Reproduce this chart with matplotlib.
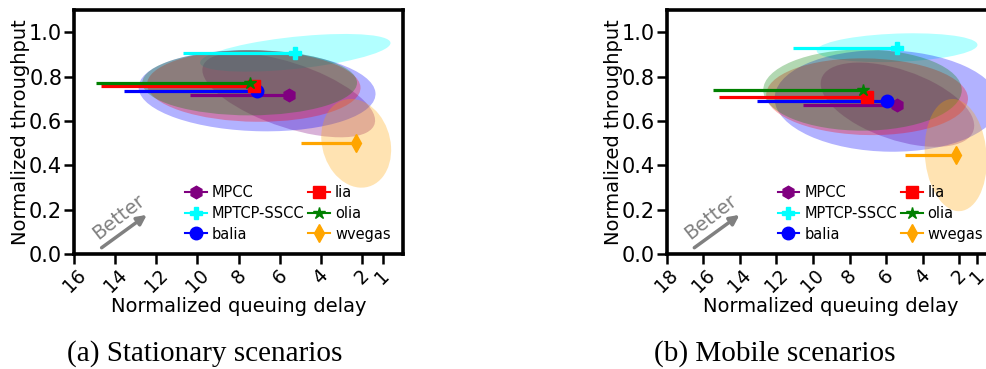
import numpy as np
import matplotlib
matplotlib.use("Agg")
import matplotlib.pyplot as plt
import matplotlib.transforms as transforms
from matplotlib.patches import Ellipse
from matplotlib.lines import Line2D

# ---- data ----
names = ['MPCC', 'MPTCP-SSCC', 'balia', 'lia', 'olia', 'wvegas']
colors = ['purple', 'cyan', 'blue', 'red', 'green', 'orange']
markers = ['h', 'P', 'o', 's', '*', 'd']

# stationary scenarios: mean delay / throughput, left end of delay bar
stat_delay = [5.56, 5.24, 7.10, 7.26, 7.46, 2.28]
stat_tput = [0.716, 0.907, 0.736, 0.757, 0.772, 0.499]
stat_delay_hi = [10.37, 10.69, 13.57, 14.70, 14.93, 4.95]
# spread ellipses: half-width (delay), half-height (throughput), correlation
stat_sx = [4.2, 4.63, 5.76, 5.19, 5.22, 1.7]
stat_sy = [0.19, 0.085, 0.183, 0.161, 0.147, 0.20]
stat_rho = [0.6, -0.52, 0.08, 0.05, 0.0, 0.15]

# mobile scenarios
mob_delay = [5.38, 5.40, 5.95, 7.04, 7.29, 2.19]
mob_tput = [0.673, 0.930, 0.690, 0.709, 0.739, 0.446]
mob_delay_hi = [10.53, 11.08, 13.05, 15.13, 15.45, 4.98]
mob_sx = [4.2, 4.4, 6.15, 5.52, 5.43, 1.7]
mob_sy = [0.19, 0.065, 0.229, 0.173, 0.183, 0.253]
mob_rho = [0.5, -0.2, 0.05, 0.05, 0.0, 0.1]

stat_xticks = [16, 14, 12, 10, 8, 6, 4, 2, 1]
mob_xticks = [18, 16, 14, 12, 10, 8, 6, 4, 2, 1]


def add_ellipse(ax, cx, cy, sx, sy, rho, color):
    ell = Ellipse((0, 0), width=2 * np.sqrt(1 + rho), height=2 * np.sqrt(1 - rho),
                  facecolor=color, alpha=0.3, lw=0, zorder=1)
    tr = transforms.Affine2D().rotate_deg(45).scale(sx, sy).translate(cx, cy)
    ell.set_transform(tr + ax.transData)
    ax.add_patch(ell)


def draw_panel(ax, delay, tput, delay_hi, sx, sy, rho, xmax, xticks):
    for i in range(len(names)):
        add_ellipse(ax, delay[i], tput[i], sx[i], sy[i], rho[i], colors[i])
    for i in range(len(names)):
        ax.errorbar(delay[i], tput[i], xerr=[[0], [delay_hi[i] - delay[i]]],
                    fmt=markers[i], color=colors[i], ms=9, elinewidth=2.3,
                    capsize=0, zorder=3)
    ax.set_xlim(xmax, 0)
    ax.set_ylim(0, 1.1)
    ax.set_xticks(xticks)
    ax.set_xticklabels([str(t) for t in xticks], rotation=45)
    ax.set_yticks([0.0, 0.2, 0.4, 0.6, 0.8, 1.0])
    ax.set_yticklabels(['0.0', '0.2', '0.4', '0.6', '0.8', '1.0'])
    ax.set_xlabel('Normalized queuing delay', fontsize=14, labelpad=1)
    ax.set_ylabel('Normalized throughput', fontsize=14, labelpad=-1)
    ax.tick_params(length=7, width=1.8, pad=1.5)
    ax.tick_params(axis='x', labelsize=13.5)
    ax.tick_params(axis='y', labelsize=15)
    for s in ax.spines.values():
        s.set_linewidth(2.6)
    handles = [Line2D([], [], color=colors[i], marker=markers[i], ms=9, lw=1.5)
               for i in range(len(names))]
    ax.legend(handles, names, loc='lower right', ncol=2, frameon=False,
              fontsize=10.5, handlelength=1.5, handletextpad=0.35,
              columnspacing=0.25, labelspacing=0.4, borderaxespad=0.45)
    ax.annotate('', xy=(0.228, 0.167), xytext=(0.077, 0.019),
                xycoords='axes fraction',
                arrowprops=dict(arrowstyle='-|>', color='gray', lw=2.5,
                                mutation_scale=14))
    ax.text(0.135, 0.15, 'Better', transform=ax.transAxes, color='gray',
            fontsize=14, rotation=38, ha='center', va='center')


fig = plt.figure(figsize=(9.86, 3.69), dpi=100)
ax1 = fig.add_axes([0.0751, 0.3117, 0.3337, 0.6612])
ax2 = fig.add_axes([0.6762, 0.3117, 0.3337, 0.6612])

draw_panel(ax1, stat_delay, stat_tput, stat_delay_hi, stat_sx, stat_sy, stat_rho, 16, stat_xticks)
draw_panel(ax2, mob_delay, mob_tput, mob_delay_hi, mob_sx, mob_sy, mob_rho, 18, mob_xticks)

fig.text(0.208, 0.043, '(a) Stationary scenarios', ha='center', va='center',
         family='Liberation Serif', fontsize=21)
fig.text(0.786, 0.043, '(b) Mobile scenarios', ha='center', va='center',
         family='Liberation Serif', fontsize=21)

fig.savefig('out.png', dpi=100)
